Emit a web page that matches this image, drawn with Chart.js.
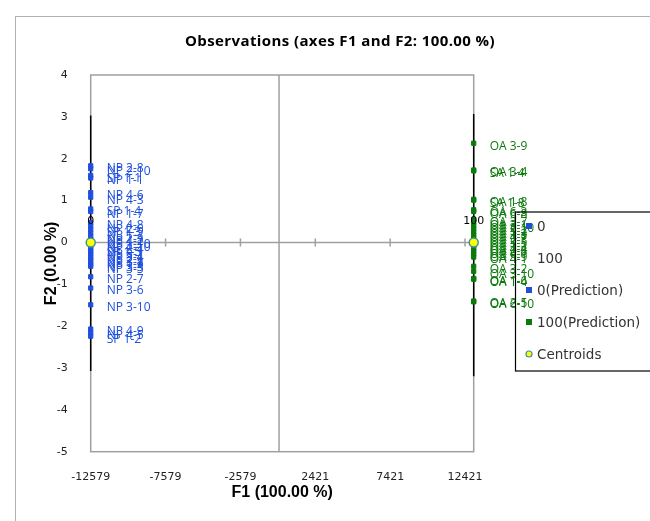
<!DOCTYPE html>
<html>
<head>
<meta charset="utf-8">
<title>Observations (axes F1 and F2)</title>
<script src="https://cdn.jsdelivr.net/npm/chart.js@4/dist/chart.umd.min.js"></script>
<style>
  html, body { margin: 0; padding: 0; background: #fff; }
  canvas { display: block; }
</style>
</head>
<body>
<canvas id="obsChart" width="650" height="521"></canvas>
<script>
// ------------------------------------------------------------
// Observations scatter (discriminant analysis, F1 x F2)
// ------------------------------------------------------------

const titleText = 'Observations (axes F1 and F2: 100.00 %)';

// axis ticks
const xTicks = [-12579, -7579, -2579, 2421, 7421, 12421];
const xRange = [-12579, 13000];
const yRange = [-5, 4];

// class 0 observations (F1 is the same for all of them)
const npF1 = -12579;
const npLabels = ['NP 2-8', 'NP 2-10', 'SP 1-1', 'NP 1-1', 'NP 4-6', 'NP 4-3', 'SP 1-4', 'NP 1-7',
  'NP 4-8', 'NP 2-6', 'SP 1-3', 'NP 1-2', 'NP 2-3', 'NP 4-2', 'NP 1-10', 'NP 4-10', 'NP 2-4',
  'SP 1-5', 'NP 3-1', 'NP 3-4', 'NP 2-1', 'NP 3-8', 'NP 1-3', 'NP 3-3', 'NP 3-5',
  'NP 2-7', 'NP 3-6', 'NP 3-10', 'NP 4-9', 'NP 4-5', 'SP 1-2'];
const npF2 = [1.83, 1.76, 1.60, 1.54, 1.19, 1.08, 0.80, 0.74,
  0.47, 0.39, 0.31, 0.23, 0.15, 0.08, 0.02, -0.04, -0.10,
  -0.16, -0.22, -0.28, -0.34, -0.40, -0.46, -0.52, -0.57,
  -0.82, -1.09, -1.49, -2.07, -2.16, -2.24];

// class 100 observations
const oaF1 = 13000;
const oaLabels = ['OA 3-9', 'OA 3-4', 'SA 1-4', 'OA 1-8', 'SA 1-8', 'OA 6-3', 'OA 6-8', 'OA 3-7',
  'OA 3-1', 'OA 2-10', 'OA 5-2', 'OA 1-3', 'OA 4-7', 'OA 2-3', 'OA 5-5', 'OA 1-1', 'OA 4-4',
  'OA 2-8', 'OA 6-1', 'OA 5-9', 'OA 4-1', 'OA 3-2', 'OA 3-10', 'OA 1-6', 'OA 1-4', 'OA 2-5', 'OA 6-10'];
const oaF2 = [2.37, 1.73, 1.71, 1.03, 1.01, 0.78, 0.74, 0.55,
  0.48, 0.40, 0.33, 0.25, 0.18, 0.11, 0.04, -0.03, -0.09,
  -0.15, -0.21, -0.28, -0.35, -0.57, -0.69, -0.86, -0.88, -1.40, -1.42];

// centroids
const centroidF1 = [-12579, 13000];
const centroidF2 = [0, 0];
const centroidLabels = ['0', '100'];

// confidence ellipses (collapsed to vertical segments, F2 has 0 % inertia)
const ellipse0F2 = [3.03, -3.07];
const ellipse100F2 = [3.07, -3.2];

const legendLabels = ['0', '100', '0(Prediction)', '100(Prediction)', 'Centroids'];

const BLUE = '#1f4fe0';
const GREEN = '#0b7a0b';
const CENTROID_FILL = '#ffff00';
const CENTROID_LINE = '#3e8ea8';
const AXIS_GREY = '#a0a0a0';

const pts = (xs, ys) => ys.map((v, i) => ({ x: Array.isArray(xs) ? xs[i] : xs, y: v }));

const decorPlugin = {
  id: 'decor',
  beforeDraw(chart) {
    const { ctx } = chart;
    ctx.save();
    ctx.fillStyle = '#fff';
    ctx.fillRect(0, 0, chart.width, chart.height);
    // outer chart frame
    ctx.strokeStyle = '#b0b0b0';
    ctx.lineWidth = 1;
    ctx.strokeRect(15.5, 16.5, 700, 600);
    ctx.font = 'bold 15px "Open Sans"';
    ctx.letterSpacing = '0.4px';
    ctx.fillStyle = '#000';
    ctx.textAlign = 'center';
    ctx.textBaseline = 'middle';
    ctx.fillText(titleText, 340, 42);
    ctx.restore();
  },
  beforeDatasetsDraw(chart) {
    const { ctx, chartArea: a, scales: { x, y } } = chart;
    ctx.save();
    ctx.strokeStyle = AXIS_GREY;
    ctx.lineWidth = 1.5;
    ctx.strokeRect(a.left, a.top, a.right - a.left, a.bottom - a.top);
    const x0 = x.getPixelForValue(0);
    const y0 = y.getPixelForValue(0);
    ctx.beginPath();
    ctx.moveTo(x0, a.top);
    ctx.lineTo(x0, a.bottom);
    ctx.moveTo(a.left, y0);
    ctx.lineTo(a.right, y0);
    xTicks.forEach(v => {
      const px = x.getPixelForValue(v);
      ctx.moveTo(px, y0 - 4);
      ctx.lineTo(px, y0 + 4);
    });
    ctx.stroke();
    ctx.restore();
  },
  afterDatasetsDraw(chart) {
    const { ctx } = chart;
    ctx.save();
    chart.data.datasets.forEach((ds, i) => {
      if (!ds.pointTexts) return;
      const meta = chart.getDatasetMeta(i);
      meta.data.forEach((el, j) => {
        const txt = ds.pointTexts[j];
        if (ds.isCentroid) {
          ctx.font = '11px "DejaVu Sans"';
          ctx.fillStyle = '#000';
          ctx.textAlign = 'center';
          ctx.textBaseline = 'middle';
          ctx.fillText(txt, el.x, el.y - 21);
        } else {
          ctx.font = '12px "Open Sans"';
          ctx.fillStyle = ds.borderColor;
          ctx.textAlign = 'left';
          ctx.textBaseline = 'middle';
          ctx.fillText(txt, el.x + 16, el.y + 3);
        }
      });
    });
    ctx.restore();
  },
  afterDraw(chart) {
    // legend box, partly outside the canvas like the original
    const { ctx } = chart;
    ctx.save();
    ctx.strokeStyle = '#000';
    ctx.lineWidth = 1.2;
    ctx.strokeRect(515.5, 212, 200, 159);
    ctx.font = '13.5px "DejaVu Sans"';
    ctx.textAlign = 'left';
    ctx.textBaseline = 'middle';
    legendLabels.forEach((lab, i) => {
      const cy = 226 + i * 32;
      const mx = 529;
      if (i === 0 || i === 2) {
        ctx.fillStyle = BLUE;
        ctx.fillRect(mx - 3, cy - 3, 6, 6);
      } else if (i === 3) {
        ctx.fillStyle = GREEN;
        ctx.fillRect(mx - 3, cy - 3, 6, 6);
      } else if (i === 4) {
        ctx.beginPath();
        ctx.arc(mx, cy, 3, 0, Math.PI * 2);
        ctx.fillStyle = CENTROID_FILL;
        ctx.fill();
        ctx.strokeStyle = CENTROID_LINE;
        ctx.lineWidth = 1.2;
        ctx.stroke();
      }
      ctx.fillStyle = '#333';
      ctx.fillText(lab, 537, cy + 1);
    });
    ctx.restore();
  }
};

const ctx = document.getElementById('obsChart');

new Chart(ctx, {
  type: 'scatter',
  data: {
    datasets: [
      {
        label: 'Centroids',
        data: pts(centroidF1, centroidF2),
        pointTexts: centroidLabels,
        isCentroid: true,
        pointStyle: 'circle',
        pointRadius: 4.5,
        backgroundColor: CENTROID_FILL,
        borderColor: CENTROID_LINE,
        borderWidth: 1.5,
        clip: false,
        order: 0
      },
      {
        label: '0(Prediction)',
        data: pts(npF1, npF2),
        pointTexts: npLabels,
        pointStyle: 'rect',
        pointRadius: 3,
        backgroundColor: BLUE,
        borderColor: BLUE,
        borderWidth: 1,
        clip: false,
        order: 1
      },
      {
        label: '100(Prediction)',
        data: pts(oaF1, oaF2),
        pointTexts: oaLabels,
        pointStyle: 'rect',
        pointRadius: 3,
        backgroundColor: GREEN,
        borderColor: GREEN,
        borderWidth: 1,
        clip: false,
        order: 1
      },
      {
        label: 'ellipse 0',
        data: pts(npF1, ellipse0F2),
        showLine: true,
        borderColor: '#000',
        borderWidth: 1.5,
        pointRadius: 0,
        clip: false,
        order: 2
      },
      {
        label: 'ellipse 100',
        data: pts(oaF1, ellipse100F2),
        showLine: true,
        borderColor: '#000',
        borderWidth: 1.5,
        pointRadius: 0,
        clip: false,
        order: 2
      }
    ]
  },
  options: {
    responsive: false,
    animation: false,
    devicePixelRatio: 1,
    layout: { padding: { top: 75, right: 176.3, bottom: 0, left: 0 } },
    plugins: {
      legend: { display: false },
      tooltip: { enabled: false },
      title: { display: false }
    },
    scales: {
      x: {
        type: 'linear',
        min: xRange[0],
        max: xRange[1],
        grid: { display: false },
        border: { display: false },
        afterBuildTicks: scale => { scale.ticks = xTicks.map(v => ({ value: v })); },
        afterFit: scale => { scale.height = 69.3; },
        ticks: {
          autoSkip: false,
          maxRotation: 0,
          padding: 11,
          color: '#222',
          font: { family: 'DejaVu Sans', size: 11 },
          callback: v => String(v)
        },
        title: {
          display: true,
          text: 'F1 (100.00 %)',
          color: '#000',
          font: { family: 'Liberation Sans', size: 16, weight: 'bold' },
          padding: { top: 0, bottom: 18.4 }
        }
      },
      y: {
        type: 'linear',
        min: yRange[0],
        max: yRange[1],
        grid: { display: false },
        border: { display: false },
        afterFit: scale => { scale.width = 90.7; },
        ticks: {
          stepSize: 1,
          padding: 15,
          color: '#222',
          font: { family: 'DejaVu Sans', size: 11 },
          callback: v => String(v)
        },
        title: {
          display: true,
          text: 'F2 (0.00 %)',
          color: '#000',
          font: { family: 'Liberation Sans', size: 16, weight: 'bold' },
          padding: { top: 42.4, bottom: 0 }
        }
      }
    }
  },
  plugins: [decorPlugin]
});
</script>
</body>
</html>
